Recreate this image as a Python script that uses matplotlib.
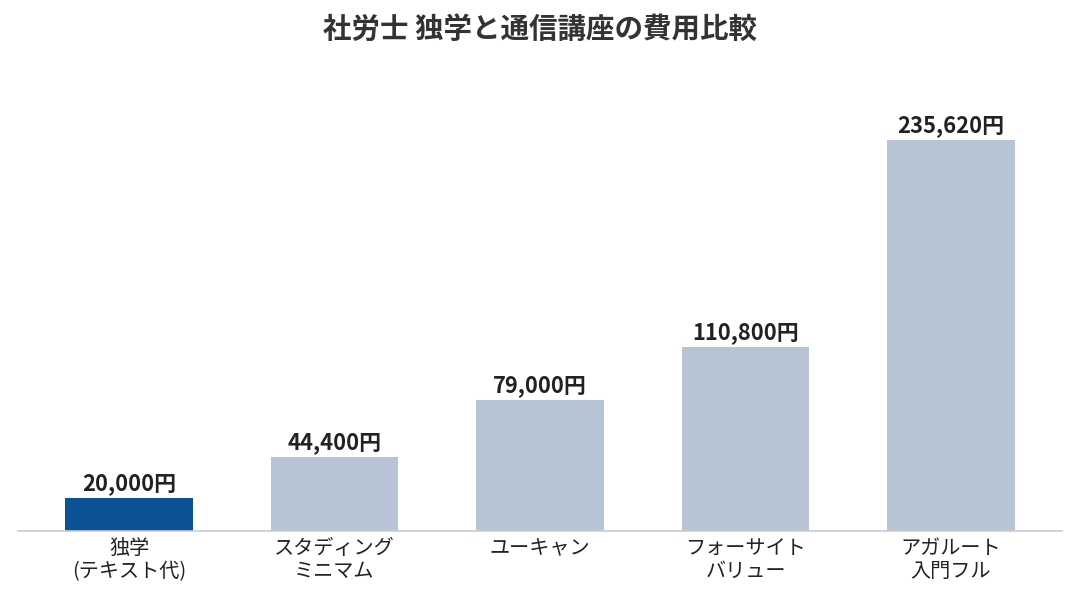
import matplotlib
matplotlib.use("Agg")
import matplotlib.pyplot as plt

plt.rcParams['font.family'] = ['Noto Sans CJK JP', 'DejaVu Sans']

categories = ["独学\n(テキスト代)", "スタディング\nミニマム", "ユーキャン", "フォーサイト\nバリュー", "アガルート\n入門フル"]
values = [20000, 44400, 79000, 110800, 235620]
colors = ["#0b5394", "#b7c4d5", "#b7c4d5", "#b7c4d5", "#b7c4d5"]
title = "社労士 独学と通信講座の費用比較"

fig = plt.figure(figsize=(10.8, 6), dpi=100)
ax = fig.add_axes([18/1080, 69/600, 1044/1080, 451/600])
x = list(range(len(categories)))
ax.bar(x, values, width=0.62, color=colors, zorder=2)
for xi, v in zip(x, values):
    ax.text(xi, v + 1800, f"{v:,}円", ha="center", va="bottom", fontsize=15.8,
            fontweight="bold", color="#222222")
ax.set_xlim(-0.54, len(categories) - 0.46)
ax.set_ylim(0, 235620 * 451 / 391)
ax.set_xticks(x)
ax.set_xticklabels(categories, fontsize=14.5, color="#222222", linespacing=1.15)
ax.tick_params(axis="x", length=0, pad=5)
ax.set_yticks([])
for s in ["top", "right", "left"]:
    ax.spines[s].set_visible(False)
ax.spines["bottom"].set_color("#cccccc")
ax.spines["bottom"].set_linewidth(1.2)
fig.text(0.5, 1 - 30/600, title, ha="center", va="center", fontsize=20.5,
         fontweight="bold", color="#333333")
fig.savefig("out.png", dpi=100, facecolor="white")
